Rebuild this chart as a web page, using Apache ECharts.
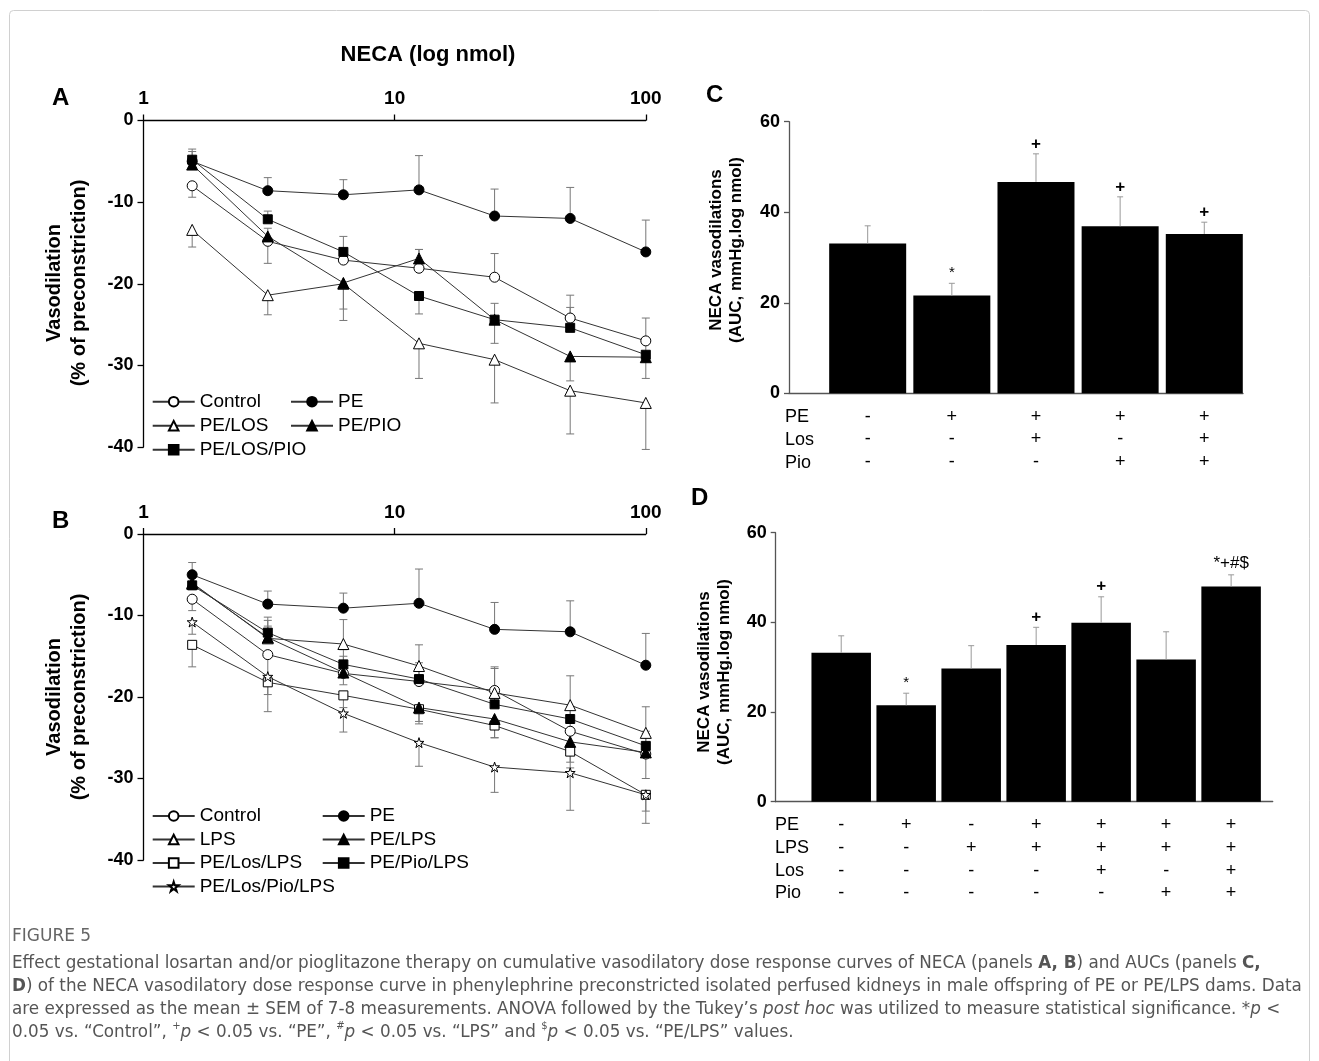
<!DOCTYPE html>
<html><head><meta charset="utf-8">
<script src="https://cdn.jsdelivr.net/npm/echarts@6/dist/echarts.min.js"></script>
<style>html,body{margin:0;padding:0;background:#fff}#c{width:1319px;height:1061px}</style>
</head><body><div id="c"></div>
<script>
// ---------- DATA ----------
const doses = [1.5625, 3.125, 6.25, 12.5, 25, 50, 100];   // NECA nmol
// Panel A (mean, signed SEM: + = bar drawn upward)
const controlVals = [-8.0, -14.8, -17.1, -18.1, -19.2, -24.2, -27.0];
const controlErr  = [-1.4, -2.7, 2.9, 2.3, 2.9, 2.8, 2.8];
const peVals      = [-5.0, -8.6, -9.1, -8.5, -11.7, -12.0, -16.1];
const peErr       = [1.5, 1.6, 1.85, 4.2, 3.3, 3.8, 3.9];
const peLosVals   = [-13.4, -21.4, -20.0, -27.3, -29.3, -33.1, -34.6];
const peLosErr    = [-2.1, -2.4, -4.5, -4.3, -5.3, -5.3, -5.7];
const pePioVals   = [-5.4, -14.2, -19.9, -16.9, -24.4, -28.9, -29.0];
const pePioErr    = [1.0, 1.0, -3.2, 1.1, -2.9, -3.0, -2.6];
const peLosPioVals= [-4.8, -12.1, -16.1, -21.5, -24.4, -25.4, -28.7];
const peLosPioErr = [1.0, 1.0, -1.0, -2.2, 2.0, 2.5, 1.5];
// Panel B
const lpsVals       = [-6.0, -12.8, -13.5, -16.2, -19.5, -21.0, -24.4];
const lpsErr        = [1.0, 1.5, 3.0, 2.6, 3.0, 3.6, 3.2];
const peLpsVals     = [-6.1, -12.7, -17.0, -21.3, -22.7, -25.5, -26.8];
const peLpsErr      = [1.0, 2.1, -1.5, -2.0, -2.3, -2.5, -3.2];
const peLosLpsVals  = [-13.6, -18.2, -19.8, -21.5, -23.5, -26.7, -32.0];
const peLosLpsErr   = [-2.7, -1.5, -1.5, -1.5, -1.5, -2.0, -2.0];
const pePioLpsVals  = [-6.3, -12.1, -16.0, -17.8, -20.9, -22.7, -26.0];
const pePioLpsErr   = [1.0, 1.9, 1.0, 1.0, 1.0, 1.5, 1.5];
const peLosPioLpsVals = [-10.8, -17.5, -22.0, -25.6, -28.6, -29.3, -32.0];
const peLosPioLpsErr  = [-1.5, -4.3, -2.3, -2.9, -3.1, -4.6, -3.5];
// Panel C
const aucC    = [33.1, 21.6, 46.7, 36.9, 35.2];
const aucCErr = [3.9, 2.7, 6.2, 6.5, 2.6];
const sigC    = ['', '*', '+', '+', '+'];
const rowsCLabels = ['PE', 'Los', 'Pio'];
const rowsC = [['-','+','+','+','+'], ['-','-','+','-','+'], ['-','-','-','+','+']];
// Panel D
const aucD    = [33.2, 21.5, 29.7, 34.95, 39.9, 31.7, 48.0];
const aucDErr = [3.8, 2.7, 5.1, 3.95, 5.8, 6.2, 2.6];
const sigD    = ['', '*', '', '+', '+', '', '*+#$'];
const rowsDLabels = ['PE', 'LPS', 'Los', 'Pio'];
const rowsD = [['-','+','-','+','+','+','+'], ['-','-','+','+','+','+','+'], ['-','-','-','-','+','-','+'], ['-','-','-','-','-','+','+']];
const yTicksAB = [0, -10, -20, -30, -40];
const yTicksCD = [0, 20, 40, 60];

// ---------- CHART ----------
const F = '"Liberation Sans", Arial, sans-serif';
const chart = echarts.init(document.getElementById('c'), null, {renderer: 'canvas'});
const STAR = 'path://M50,2 L61,36 L97,36 L68,58 L79,93 L50,71 L21,93 L32,58 L3,36 L39,36 Z';

function lineS(name, vals, sym, filled, size, ai) {
  return {type: 'line', name, xAxisIndex: ai, yAxisIndex: ai,
    data: doses.map((d, i) => [d, vals[i]]),
    symbol: sym, symbolSize: size, showAllSymbol: true,
    itemStyle: {color: filled ? '#000' : '#fff', borderColor: '#000', borderWidth: 1},
    lineStyle: {color: '#333', width: 1}, z: 3, silent: true, animation: false};
}
function errRender(params, api) {
  const x = api.value(0), y = api.value(1), e = api.value(2);
  const p0 = api.coord([x, y]), p1 = api.coord([x, y + e]);
  return {type: 'group', children: [
    {type: 'line', shape: {x1: p0[0], y1: p0[1], x2: p1[0], y2: p1[1]}, style: {stroke: '#777', lineWidth: 1}},
    {type: 'line', shape: {x1: p1[0] - 4, y1: p1[1], x2: p1[0] + 4, y2: p1[1]}, style: {stroke: '#777', lineWidth: 1}}
  ]};
}
function errS(vals, errs, ai) {
  return {type: 'custom', xAxisIndex: ai, yAxisIndex: ai, encode: {x: 0, y: 1},
    data: doses.map((d, i) => [d, vals[i], errs[i]]), renderItem: errRender, z: 2, silent: true, animation: false};
}
function barErrRender(sig) {
  return function (params, api) {
    const x = api.value(0), y = api.value(1), e = api.value(2);
    const p0 = api.coord([x, y]), p1 = api.coord([x, y + e]);
    const s = sig[params.dataIndex];
    const ch = [
      {type: 'line', shape: {x1: p0[0], y1: p0[1], x2: p1[0], y2: p1[1]}, style: {stroke: '#999', lineWidth: 1}},
      {type: 'line', shape: {x1: p1[0] - 3, y1: p1[1], x2: p1[0] + 3, y2: p1[1]}, style: {stroke: '#999', lineWidth: 1}}
    ];
    if (s) ch.push({type: 'text', x: p1[0], y: p1[1] - (s.length > 1 ? 12 : 10),
      style: {text: s, fill: '#000', align: 'center', verticalAlign: 'middle',
        font: (s === '+' ? 'bold ' : '') + (s === '*' ? '15px ' : '17px ') + F}});
    return {type: 'group', children: ch};
  };
}
function tableFormatter(rows) {
  return function (v) { const k = Math.round(v); return rows.map(r => r[k]).join('\n'); };
}

const xLogAxis = (gi) => ({type: 'log', logBase: 10, gridIndex: gi, min: 1, max: 100, position: 'top',
  axisLine: {show: true, lineStyle: {color: '#000', width: 1.3}},
  axisTick: {show: true, inside: false, length: 6, lineStyle: {color: '#000', width: 1.3}},
  minorTick: {show: false}, splitLine: {show: false}, minorSplitLine: {show: false},
  axisLabel: {color: '#000', fontSize: 19, fontWeight: 'bold', fontFamily: F, margin: 12}});
const yAB = (gi) => ({type: 'value', gridIndex: gi, min: yTicksAB[yTicksAB.length - 1], max: yTicksAB[0], interval: 10,
  axisLine: {show: true, onZero: false, lineStyle: {color: '#000', width: 1.3}},
  axisTick: {show: true, inside: false, length: 6, lineStyle: {color: '#000', width: 1.3}},
  splitLine: {show: false},
  axisLabel: {color: '#000', fontSize: 18, fontWeight: 'bold', fontFamily: F, margin: 10}});
const xBar = (gi, mn, mx, n, rows) => ({type: 'value', gridIndex: gi, min: mn, max: mx,
  axisLine: {show: true, onZero: false, lineStyle: {color: '#555', width: 1.3}},
  axisTick: {show: false}, splitLine: {show: false},
  axisLabel: {show: true, customValues: Array.from({length: n}, (_, i) => i), formatter: tableFormatter(rows),
    color: '#000', fontSize: 18, fontFamily: F, lineHeight: 22.8, margin: 12, hideOverlap: false}});
const yBar = (gi) => ({type: 'value', gridIndex: gi, min: yTicksCD[0], max: yTicksCD[yTicksCD.length - 1], interval: 20,
  axisLine: {show: true, onZero: false, lineStyle: {color: '#555', width: 1.3}},
  axisTick: {show: true, inside: false, length: 5, lineStyle: {color: '#555', width: 1.3}},
  splitLine: {show: false},
  axisLabel: {color: '#000', fontSize: 18, fontWeight: 'bold', fontFamily: F, margin: 9}});

const legCommon = {orient: 'vertical', padding: 0, itemWidth: 42, itemHeight: 12, selectedMode: false,
  textStyle: {fontSize: 19, fontFamily: F, color: '#000', lineHeight: 20}};

const rot = Math.PI / 2;
function vTitle(x, y, text, size, lh) {
  return {type: 'text', x, y, rotation: rot, style: {text, font: 'bold ' + size + 'px ' + F, fill: '#000',
    align: 'center', verticalAlign: 'middle', lineHeight: lh}};
}
function plain(x, y, text, font, align) {
  return {type: 'text', x, y, style: {text, font, fill: '#000', align: align || 'left', verticalAlign: 'middle'}};
}

const caption =
  'Effect gestational losartan and/or pioglitazone therapy on cumulative vasodilatory dose response curves of NECA (panels {b|A, B}) and AUCs (panels {b|C,}\n' +
  '{b|D}) of the NECA vasodilatory dose response curve in phenylephrine preconstricted isolated perfused kidneys in male offspring of PE or PE/LPS dams. Data\n' +
  'are expressed as the mean ± SEM of 7-8 measurements. ANOVA followed by the Tukey\u2019s {i|post hoc} was utilized to measure statistical significance. *{i|p} <\n' +
  '0.05 vs. \u201cControl\u201d, {s|+}{i|p} < 0.05 vs. \u201cPE\u201d, {s|#}{i|p} < 0.05 vs. \u201cLPS\u201d and {s|$}{i|p} < 0.05 vs. \u201cPE/LPS\u201d values.';
const CF = '"DejaVu Sans", "Open Sans", sans-serif';
const CS = 16.8;

const graphics = [
  {type: 'rect', shape: {x: 9.5, y: 10.5, width: 1300, height: 1080, r: 4}, style: {fill: 'none', stroke: '#d0d0d0', lineWidth: 1}, silent: true},
  plain(428, 55, 'NECA (log nmol)', 'bold 22px ' + F, 'center'),
  plain(52, 98, 'A', 'bold 24px ' + F),
  plain(52, 521, 'B', 'bold 24px ' + F),
  plain(706, 95, 'C', 'bold 24px ' + F),
  plain(691, 498, 'D', 'bold 24px ' + F),
  vTitle(67, 283, 'Vasodilation\n(% of preconstriction)', 20, 25),
  vTitle(67, 697, 'Vasodilation\n(% of preconstriction)', 20, 25),
  vTitle(726, 250, 'NECA vasodilations\n(AUC, mmHg.log nmol)', 17, 20),
  vTitle(714, 672, 'NECA vasodilations\n(AUC, mmHg.log nmol)', 17, 20),
  {type: 'text', x: 785, y: 417.3 - 11.4, style: {text: rowsCLabels.join('\n'), font: '18px ' + F, fill: '#000', align: 'left', verticalAlign: 'top', lineHeight: 22.8}},
  {type: 'text', x: 775, y: 825 - 11.4, style: {text: rowsDLabels.join('\n'), font: '18px ' + F, fill: '#000', align: 'left', verticalAlign: 'top', lineHeight: 22.8}},
  {type: 'text', x: 12, y: 937, style: {text: 'FIGURE 5', font: '17px ' + CF, fill: '#666', align: 'left', verticalAlign: 'middle'}},
  {type: 'text', x: 12, y: 952.5, style: {text: caption, font: CS + 'px ' + CF, fill: '#555', align: 'left', verticalAlign: 'top', lineHeight: 23,
    rich: {b: {fontWeight: 'bold', fontSize: CS, fontFamily: CF, color: '#333', lineHeight: 23},
           i: {fontStyle: 'italic', fontSize: CS, fontFamily: CF, color: '#555', lineHeight: 23},
           s: {fontSize: 10, fontFamily: CF, color: '#555', lineHeight: 14, verticalAlign: 'top'}}}}
];

const option = {
  backgroundColor: '#fff',
  animation: false,
  grid: [
    {left: 143.5, top: 120.5, width: 502.3, height: 326.5},
    {left: 143.5, top: 534, width: 502.3, height: 326},
    {left: 789, top: 121.7, width: 454, height: 271.6},
    {left: 775.7, top: 532.7, width: 497, height: 269}
  ],
  xAxis: [xLogAxis(0), xLogAxis(1), xBar(2, -0.935, 4.46, 5, rowsC), xBar(3, -1.008, 6.64, 7, rowsD)],
  yAxis: [yAB(0), yAB(1), yBar(2), yBar(3)],
  legend: [
    Object.assign({left: 151.7, top: 391.7, itemGap: 4, data: ['Control', 'PE/LOS', 'PE/LOS/PIO']}, legCommon),
    Object.assign({left: 290, top: 391.7, itemGap: 4, data: ['PE', 'PE/PIO']}, legCommon),
    Object.assign({left: 151.7, top: 806, itemGap: 3.5, data: ['Control', 'LPS', 'PE/Los/LPS', 'PE/Los/Pio/LPS']}, legCommon),
    Object.assign({left: 321.7, top: 806, itemGap: 3.5, data: ['PE', 'PE/LPS', 'PE/Pio/LPS']}, legCommon)
  ],
  series: [
    errS(controlVals, controlErr, 0), errS(peVals, peErr, 0), errS(peLosVals, peLosErr, 0),
    errS(pePioVals, pePioErr, 0), errS(peLosPioVals, peLosPioErr, 0),
    lineS('Control', controlVals, 'circle', false, 10, 0),
    lineS('PE/LOS', peLosVals, 'triangle', false, 11, 0),
    lineS('PE/LOS/PIO', peLosPioVals, 'rect', true, 9, 0),
    lineS('PE/PIO', pePioVals, 'triangle', true, 11, 0),
    lineS('PE', peVals, 'circle', true, 10, 0),

    errS(controlVals, controlErr, 1), errS(peVals, peErr, 1), errS(lpsVals, lpsErr, 1),
    errS(peLpsVals, peLpsErr, 1), errS(peLosLpsVals, peLosLpsErr, 1), errS(pePioLpsVals, pePioLpsErr, 1),
    errS(peLosPioLpsVals, peLosPioLpsErr, 1),
    lineS('Control', controlVals, 'circle', false, 10, 1),
    lineS('LPS', lpsVals, 'triangle', false, 11, 1),
    lineS('PE/Los/LPS', peLosLpsVals, 'rect', false, 9, 1),
    lineS('PE/Los/Pio/LPS', peLosPioLpsVals, STAR, false, 10, 1),
    lineS('PE/Pio/LPS', pePioLpsVals, 'rect', true, 9, 1),
    lineS('PE/LPS', peLpsVals, 'triangle', true, 11, 1),
    lineS('PE', peVals, 'circle', true, 10, 1),

    {type: 'bar', xAxisIndex: 2, yAxisIndex: 2, barWidth: 77, data: aucC.map((v, i) => [i, v]),
      itemStyle: {color: '#000'}, silent: true, z: 2},
    {type: 'custom', xAxisIndex: 2, yAxisIndex: 2, encode: {x: 0, y: 1}, data: aucC.map((v, i) => [i, v, aucCErr[i]]),
      renderItem: barErrRender(sigC), z: 3, silent: true},
    {type: 'bar', xAxisIndex: 3, yAxisIndex: 3, barWidth: 59.5, data: aucD.map((v, i) => [i, v]),
      itemStyle: {color: '#000'}, silent: true, z: 2},
    {type: 'custom', xAxisIndex: 3, yAxisIndex: 3, encode: {x: 0, y: 1}, data: aucD.map((v, i) => [i, v, aucDErr[i]]),
      renderItem: barErrRender(sigD), z: 3, silent: true}
  ],
  graphic: graphics
};
chart.setOption(option);
</script>
</body></html>
